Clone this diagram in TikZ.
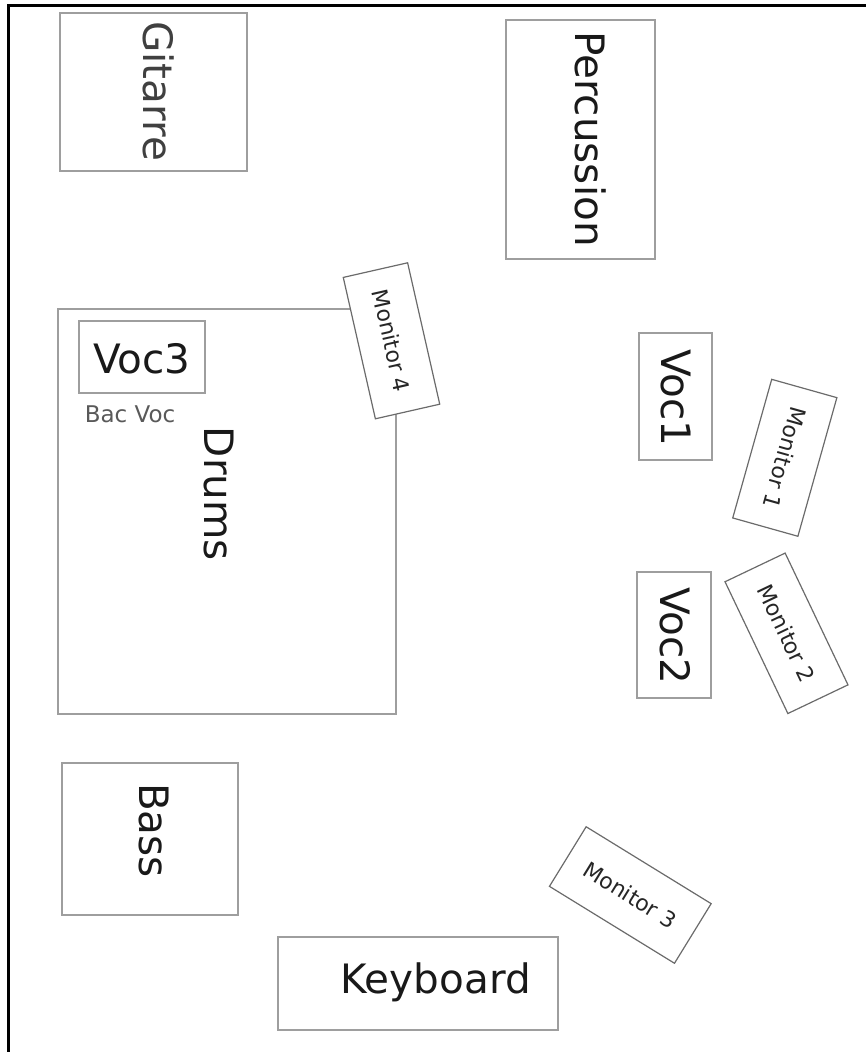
\documentclass[tikz,border=0pt]{standalone}
\usepackage{fontspec}
\setmainfont{DejaVu Sans}
\begin{document}
\begin{tikzpicture}[x=1pt,y=-1pt,
  box/.style={draw=black!38, line width=1.6pt, inner sep=0pt, outer sep=0pt},
  mon/.style={draw=black!58, line width=1.2pt, fill=white, inner sep=0pt, font=\fontsize{22}{26}\selectfont, text=black!85},
  big/.style={inner sep=0pt, font=\fontsize{40.5}{48}\selectfont, text=black!90},
  small/.style={inner sep=0pt, font=\fontsize{23}{27}\selectfont, text=black!65}]
\useasboundingbox (0,0) rectangle (865,1052);
% frame (top and left only)
\coordinate (fTR) at (865,5.3);
\coordinate (fTL) at (8.7,5.3);
\coordinate (fBL) at (8.7,1052);
\draw[line width=2.6pt, line cap=rect] (fTR) -- (fTL) -- (fBL);
% boxes
\node[box, minimum width=187, minimum height=158] (gitB) at (153.5,92) {};
\node[box, minimum width=149, minimum height=239] (percB) at (580.5,139.5) {};
\node[box, minimum width=338, minimum height=405] (drumB) at (227,511.5) {};
\node[box, minimum width=126, minimum height=72] (voc3B) at (142,357) {};
\node[box, minimum width=73, minimum height=127] (voc1B) at (675.5,396.5) {};
\node[box, minimum width=74, minimum height=126] (voc2B) at (674,635) {};
\node[box, minimum width=176, minimum height=152] (bassB) at (150,839) {};
\node[box, minimum width=280, minimum height=93] (keyB) at (418,983.5) {};
% labels
\node[big, rotate=-90, anchor=base, text=black!75] (gitT) at (143,91) {Gitarre};
\node[big, rotate=-90, anchor=base] (percT) at (575,139) {Percussion};
\node[big, rotate=-90, anchor=base] (drumT) at (204,494) {Drums};
\node[big, anchor=base] (voc3T) at (142,373) {Voc3};
\node[small, anchor=base] (bacT) at (130,422) {Bac Voc};
\node[big, rotate=-90, anchor=base] (voc1T) at (661,398) {Voc1};
\node[big, rotate=-90, anchor=base] (voc2T) at (660,636) {Voc2};
\node[big, rotate=-90, anchor=base] (bassT) at (139,830.5) {Bass};
\node[big, anchor=base] (keyT) at (435.5,993) {Keyboard};
% monitors
\node[mon, rotate=-77.2, minimum width=145, minimum height=66] (m4) at (391.5,340.8) {Monitor 4};
\node[mon, rotate=-105.7, minimum width=144, minimum height=67.7] (m1) at (784.8,457.8) {Monitor 1};
\node[mon, rotate=-64.5, minimum width=146, minimum height=66.6] (m2) at (786.5,633.3) {Monitor 2};
\node[mon, rotate=-31.6, minimum width=146.8, minimum height=70] (m3) at (630.3,895) {Monitor 3};
\end{tikzpicture}
\end{document}
